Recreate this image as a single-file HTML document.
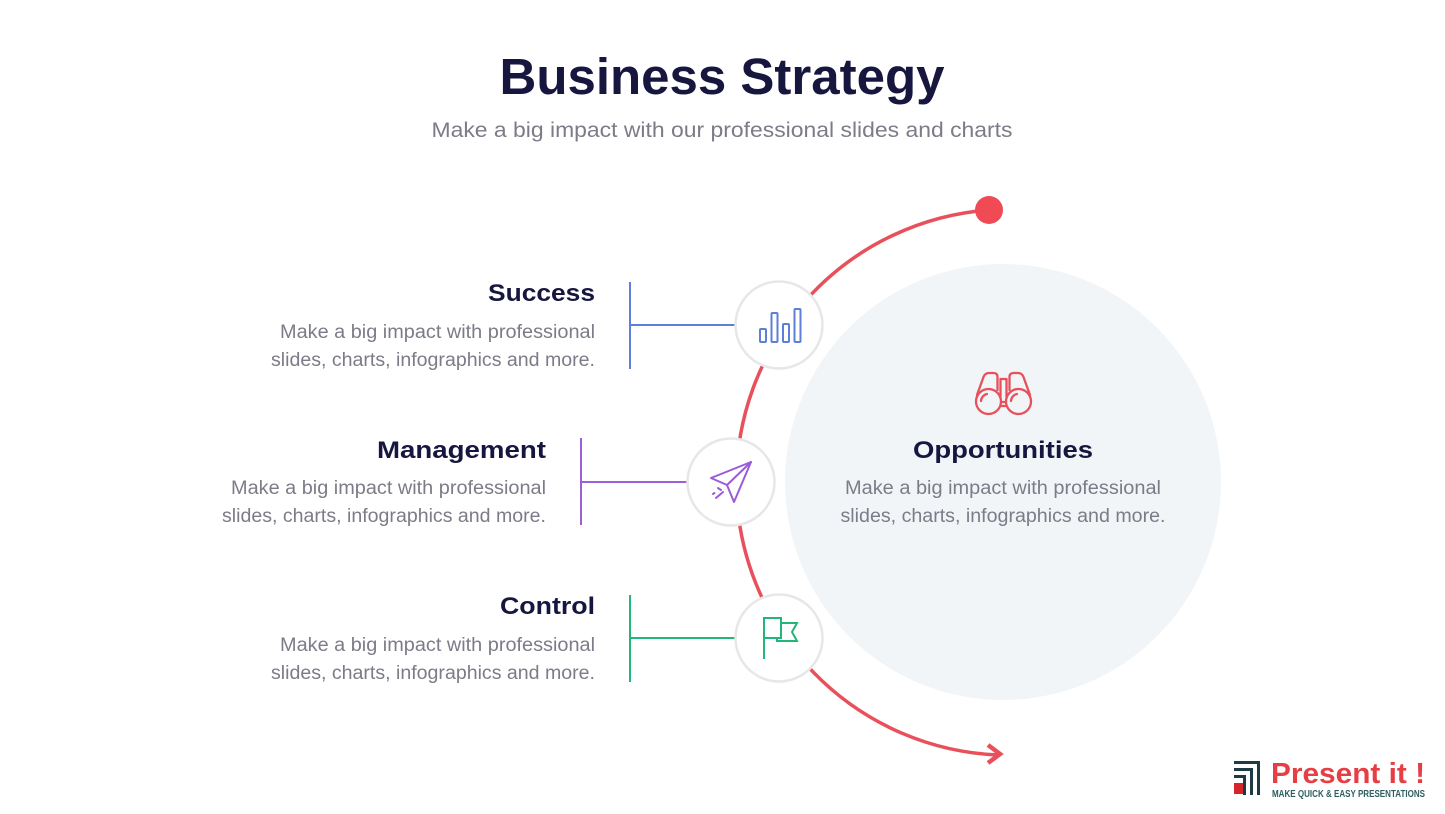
<!DOCTYPE html>
<html>
<head>
<meta charset="utf-8">
<style>
  html,body{margin:0;padding:0;background:#ffffff;}
  body{width:1445px;height:814px;overflow:hidden;}
  svg{display:block;}
  text{font-family:"Liberation Sans", Arial, sans-serif;}
</style>
</head>
<body>
<svg width="1445" height="814" viewBox="0 0 1445 814" xmlns="http://www.w3.org/2000/svg">
  <rect x="0" y="0" width="1445" height="814" fill="#ffffff"/>

  <!-- Title -->
  <text x="722" y="94" text-anchor="middle" font-size="51" font-weight="bold" fill="#16163f" textLength="445" lengthAdjust="spacingAndGlyphs">Business Strategy</text>
  <text x="722" y="137" text-anchor="middle" font-size="21" fill="#7c7c88" textLength="581" lengthAdjust="spacingAndGlyphs">Make a big impact with our professional slides and charts</text>

  <!-- Big circle -->
  <circle cx="1003" cy="482" r="218" fill="#f1f5f7"/>

  <!-- Red arc -->
  <path d="M 989 210 A 273 273 0 0 0 998 755" fill="none" stroke="#e8505b" stroke-width="3.5"/>
  <circle cx="989" cy="210" r="14" fill="#f04a55"/>
  <polyline points="988,745 1000,754 988,763" fill="none" stroke="#e8505b" stroke-width="4.5" stroke-linejoin="miter" stroke-linecap="butt"/>

  <!-- Connectors -->
  <g stroke-width="2" fill="none">
    <line x1="630" y1="282" x2="630" y2="369" stroke="#5d7fd8"/>
    <line x1="630" y1="325" x2="736" y2="325" stroke="#5d7fd8"/>
    <line x1="581" y1="438" x2="581" y2="525" stroke="#9d5fd8"/>
    <line x1="581" y1="482" x2="688" y2="482" stroke="#9d5fd8"/>
    <line x1="630" y1="595" x2="630" y2="682" stroke="#22b67a"/>
    <line x1="630" y1="638" x2="736" y2="638" stroke="#22b67a"/>
  </g>

  <!-- Small circles -->
  <circle cx="779" cy="325" r="43.5" fill="#ffffff" stroke="#e6e7e8" stroke-width="2.5"/>
  <circle cx="731" cy="482" r="43.5" fill="#ffffff" stroke="#e6e7e8" stroke-width="2.5"/>
  <circle cx="779" cy="638" r="43.5" fill="#ffffff" stroke="#e6e7e8" stroke-width="2.5"/>

  <!-- Bar chart icon -->
  <g fill="none" stroke="#5d7fd8" stroke-width="2">
    <rect x="760" y="329" width="6" height="13" rx="1"/>
    <rect x="771.5" y="313" width="6" height="29" rx="1"/>
    <rect x="783" y="324" width="6" height="18" rx="1"/>
    <rect x="794.5" y="309" width="6" height="33" rx="1"/>
  </g>

  <!-- Paper plane icon -->
  <g fill="none" stroke="#9b5bd8" stroke-width="2" stroke-linejoin="round" stroke-linecap="round">
    <path d="M751,462 L711,478 L727,485 L734,502 Z"/>
    <path d="M727,485 L751,462"/>
    <path d="M716,498 L723,492"/>
    <path d="M718,488 L721,490"/>
    <path d="M713,494 L714.5,493"/>
  </g>

  <!-- Flag icon -->
  <g fill="none" stroke="#22b67a" stroke-width="2" stroke-linejoin="miter">
    <path d="M764,659 L764,618 L781,618 L781,638 L764,638"/>
    <path d="M781,623 L797,623 L792,632 L797,641 L777,641 L777,638"/>
  </g>

  <!-- Binoculars icon -->
  <g fill="none" stroke="#e8505b" stroke-width="2.3" stroke-linejoin="round" stroke-linecap="round">
    <circle cx="988.5" cy="401.5" r="12.5"/>
    <circle cx="1018.5" cy="401.5" r="12.5"/>
    <path d="M981,401 A7.5 7.5 0 0 1 987,394"/>
    <path d="M1011,401 A7.5 7.5 0 0 1 1017,394"/>
    <path d="M977,395 L983.5,377 Q985,373 989,373 L993.5,373 Q997.5,373 997.5,377 L997.5,390"/>
    <path d="M1030,395 L1023.5,377 Q1022,373 1018,373 L1013.5,373 Q1009.5,373 1009.5,377 L1009.5,390"/>
    <path d="M1000.5,379 L1000.5,397 M1006.5,379 L1006.5,397 M1000.5,379 L1006.5,379"/>
    <path d="M1001,402 L1006,402 M1001,406 L1006,406"/>
  </g>

  <!-- Success -->
  <text x="595" y="301" text-anchor="end" font-size="24" font-weight="bold" fill="#16163f" textLength="107" lengthAdjust="spacingAndGlyphs">Success</text>
  <text x="595" y="338" text-anchor="end" font-size="19" fill="#7c7c88" textLength="315" lengthAdjust="spacingAndGlyphs">Make a big impact with professional</text>
  <text x="595" y="366" text-anchor="end" font-size="19" fill="#7c7c88" textLength="324" lengthAdjust="spacingAndGlyphs">slides, charts, infographics and more.</text>

  <!-- Management -->
  <text x="546" y="458" text-anchor="end" font-size="24" font-weight="bold" fill="#16163f" textLength="169" lengthAdjust="spacingAndGlyphs">Management</text>
  <text x="546" y="494" text-anchor="end" font-size="19" fill="#7c7c88" textLength="315" lengthAdjust="spacingAndGlyphs">Make a big impact with professional</text>
  <text x="546" y="522" text-anchor="end" font-size="19" fill="#7c7c88" textLength="324" lengthAdjust="spacingAndGlyphs">slides, charts, infographics and more.</text>

  <!-- Control -->
  <text x="595" y="614" text-anchor="end" font-size="24" font-weight="bold" fill="#16163f" textLength="95" lengthAdjust="spacingAndGlyphs">Control</text>
  <text x="595" y="651" text-anchor="end" font-size="19" fill="#7c7c88" textLength="315" lengthAdjust="spacingAndGlyphs">Make a big impact with professional</text>
  <text x="595" y="679" text-anchor="end" font-size="19" fill="#7c7c88" textLength="324" lengthAdjust="spacingAndGlyphs">slides, charts, infographics and more.</text>

  <!-- Opportunities -->
  <text x="1003" y="458" text-anchor="middle" font-size="24" font-weight="bold" fill="#16163f" textLength="180" lengthAdjust="spacingAndGlyphs">Opportunities</text>
  <text x="1003" y="494" text-anchor="middle" font-size="19" fill="#7c7c88" textLength="316" lengthAdjust="spacingAndGlyphs">Make a big impact with professional</text>
  <text x="1003" y="522" text-anchor="middle" font-size="19" fill="#7c7c88" textLength="325" lengthAdjust="spacingAndGlyphs">slides, charts, infographics and more.</text>

  <!-- Logo -->
  <g fill="#1c3c44">
    <rect x="1234" y="761" width="26" height="3"/>
    <rect x="1257" y="761" width="3" height="34"/>
    <rect x="1234" y="768" width="19" height="3"/>
    <rect x="1250" y="768" width="3" height="27"/>
    <rect x="1234" y="775" width="12" height="3"/>
    <rect x="1243" y="775" width="3" height="20"/>
  </g>
  <rect x="1234" y="783" width="9" height="11" fill="#d8232a"/>
  <text x="1271" y="783" font-size="29" font-weight="bold" fill="#e63e45" textLength="154" lengthAdjust="spacingAndGlyphs">Present it !</text>
  <text x="1272" y="797" font-size="10.5" font-weight="bold" fill="#2f5d60" textLength="153" lengthAdjust="spacingAndGlyphs">MAKE QUICK &amp; EASY PRESENTATIONS</text>
</svg>
</body>
</html>
